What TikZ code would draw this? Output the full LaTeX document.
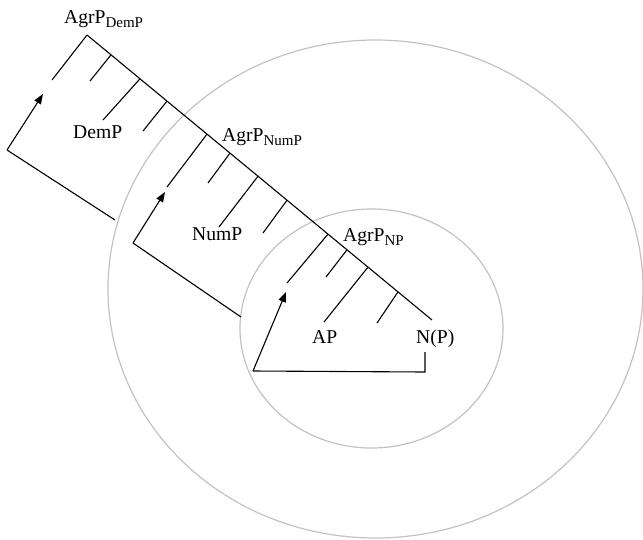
\documentclass[tikz,border=0pt]{standalone}
\usepackage{fontspec}
\setmainfont{Liberation Serif}
\usetikzlibrary{arrows.meta}
% subscript for the AgrP labels
\newcommand\agrsub[1]{\raisebox{-4.5pt}{\fontsize{15}{15}\selectfont #1}}
\begin{document}
\begin{tikzpicture}[x=1pt,y=-1pt,
  tree/.style={line width=1.1pt,black},
  ring/.style={draw=black!24,line width=1.2pt},
  lbl/.style={inner sep=0pt,anchor=base west,font=\fontsize{19.6}{20}\selectfont},
  mv/.style={tree,-{Triangle[length=10pt,width=7.5pt]}}]
\useasboundingbox (0,0) rectangle (643,539);

% domains
\draw[ring] (375.5,289) ellipse [x radius=267.5pt, y radius=249pt];
\draw[ring] (371.5,328.5) ellipse [x radius=131.5pt, y radius=119.5pt];

% spine points
\coordinate (s0) at (87,35);
\coordinate (s1) at (111,54.8);
\coordinate (s2) at (140,78.8);
\coordinate (s3) at (167,101.1);
\coordinate (s4) at (207,134.1);
\coordinate (s5) at (230,153.1);
\coordinate (s6) at (258,176.2);
\coordinate (s7) at (287,200.2);
\coordinate (s8) at (328,234.1);
\coordinate (s9) at (347,249.8);
\coordinate (s10) at (368,267.1);
\coordinate (s11) at (398,291.9);
\coordinate (s12) at (432,320);

% branch ends
\coordinate (e0) at (52,80);
\coordinate (e1) at (90,81);
\coordinate (e2) at (103,120);
\coordinate (e3) at (143,131);
\coordinate (e4) at (167,187);
\coordinate (e5) at (208,183);
\coordinate (e6) at (219,227);
\coordinate (e7) at (263,233);
\coordinate (e8) at (287,283);
\coordinate (e9) at (326,277);
\coordinate (e10) at (324,322);
\coordinate (e11) at (377,323);

% movement paths
\coordinate (m1c) at (7,150);
\coordinate (m1t) at (43,94);
\coordinate (m1e) at (115,220);
\coordinate (m2c) at (133,243);
\coordinate (m2t) at (165,192);
\coordinate (m2e) at (241,317);
\coordinate (m3c) at (253,371);
\coordinate (m3t) at (286,292);
\coordinate (m3b) at (425,372);
\coordinate (m3e) at (425,352);

% labels
\node[lbl] (agrdem) at (64,23) {AgrP\agrsub{DemP}};
\node[lbl] (agrnum) at (222,141) {AgrP\agrsub{NumP}};
\node[lbl] (agrnp) at (343,241) {AgrP\agrsub{NP}};
\node[lbl] (dem) at (73,138) {DemP};
\node[lbl] (num) at (192,240) {NumP};
\node[lbl] (ap) at (312,343) {AP};
\node[lbl] (np) at (416,343) {N(P)};

% spine
\draw[tree] (s0) -- (s1) -- (s2) -- (s3) -- (s4) -- (s5) -- (s6)
  -- (s7) -- (s8) -- (s9) -- (s10) -- (s11) -- (s12);

% branches
\foreach \i in {0,...,11} \draw[tree] (s\i) -- (e\i);

% movement
\draw[mv] (m1c) -- (m1t);
\draw[tree] (m1c) -- (m1e);
\draw[mv] (m2c) -- (m2t);
\draw[tree] (m2c) -- (m2e);
\draw[mv] (m3c) -- (m3t);
\draw[tree] (m3c) -- (m3b) -- (m3e);
\end{tikzpicture}
\end{document}
